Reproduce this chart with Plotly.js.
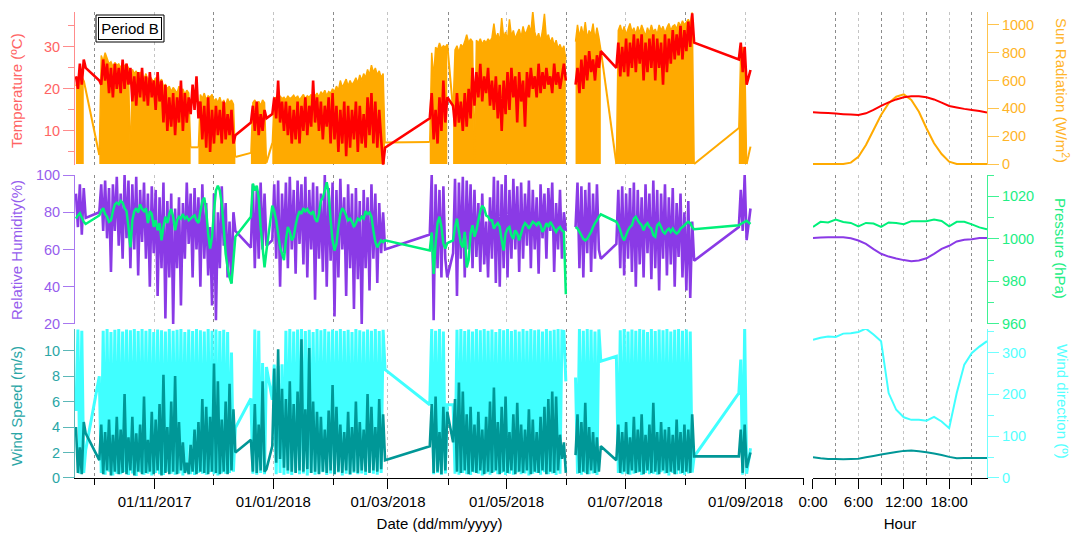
<!DOCTYPE html>
<html>
<head>
<meta charset="utf-8">
<script src="https://cdn.plot.ly/plotly-3.0.1.min.js"></script>
<style>
  html, body { margin: 0; padding: 0; background: #fff; }
  #chart { width: 1078px; height: 540px; }
</style>
</head>
<body>
<div id="chart"></div>
<script>
// daily samples, one block per measuring campaign (first day of each block)
const segStarts = ['2017-09-21', '2017-10-03', '2017-12-20', '2017-12-31', '2018-03-22',
  '2018-04-03', '2018-06-05', '2018-06-26', '2018-08-28', '2018-09-03']
// false = real hole in the record, no line drawn across
const segJoin = [true, true, true, true, true, true, false, true, true, true]

// temperature (ºC), alternating day high / night low
const temperature = [
  [23, 20, 26, 21, 27, 25],
  [22, 21, 27, 22, 26, 19, 25, 18, 26, 20, 25, 19, 27, 20, 26, 21, 25, 17, 23, 16,
   24, 18, 25, 17, 23, 16, 24, 18, 22, 15, 24, 17, 22, 12, 21, 10, 18, 11, 19, 9,
   18, 12, 22, 10, 19, 12, 18, 14, 21, 15, 23, 13, 17, 8, 16, 6, 18, 5, 15, 7,
   16, 9, 15, 7, 17, 8, 14, 9, 15, 7, 9],
  [12, 16, 10, 17, 9, 14, 10, 15, 13],
  [14, 18, 13, 22, 12, 17, 10, 17, 9, 16, 7, 15, 8, 17, 7, 16, 10, 18, 9, 16,
   11, 22, 12, 18, 10, 17, 8, 16, 11, 18, 7, 19, 8, 16, 5, 15, 7, 17, 4, 16,
   6, 15, 8, 17, 5, 16, 7, 14, 6, 18, 9, 19, 7, 17, 6, 15, 8, 2, 6],
  [13, 19, 8, 15, 7, 18, 10, 22, 12, 18],
  [16, 11, 19, 12, 17, 10, 19, 11, 20, 13, 25, 16, 24, 18, 26, 17, 23, 19, 25, 16,
   22, 15, 23, 13, 21, 10, 22, 14, 24, 15, 25, 18, 23, 12, 24, 17, 22, 11, 24, 18,
   25, 20, 23, 18, 26, 19, 24, 20, 25, 21, 23, 19, 26, 21, 24, 20, 23, 26, 22],
  [21, 25, 19, 27, 20, 28, 22, 29, 24, 27, 22, 28, 25, 29],
  [25, 31, 23, 30, 24, 32, 23, 31, 25, 33, 24, 32, 26, 33, 22, 31, 24, 32, 25, 33,
   22, 32, 25, 31, 21, 33, 24, 32, 26, 34, 27, 33, 28, 35, 27, 34, 29, 36, 30, 38, 31],
  [27, 31, 24, 30, 21],
  [24.5]
]

// relative humidity (%)
const humidity = [
  [90, 72, 95, 68, 93, 77],
  [80, 95, 70, 97, 66, 93, 48, 95, 70, 99, 62, 90, 55, 100, 66, 97, 50, 95, 60, 99,
   46, 92, 64, 96, 55, 90, 40, 94, 58, 92, 35, 88, 50, 96, 23, 86, 45, 90, 20, 82,
   50, 88, 30, 85, 55, 96, 63, 90, 45, 93, 60, 88, 40, 95, 55, 85, 46, 72, 30, 90,
   22, 80, 50, 94, 62, 85, 45, 75, 42, 80, 70],
  [61, 95, 50, 92, 55, 96, 60, 90, 62],
  [65, 95, 55, 97, 40, 90, 58, 96, 50, 99, 60, 92, 47, 97, 63, 95, 52, 99, 45, 92,
   60, 96, 33, 94, 55, 90, 48, 100, 40, 93, 54, 96, 24, 92, 45, 98, 60, 88, 35, 95,
   50, 90, 28, 93, 44, 86, 20, 92, 50, 88, 38, 95, 55, 90, 42, 85, 58, 80, 60],
  [68, 100, 22, 95, 50, 92, 45, 94, 55, 45],
  [58, 98, 35, 96, 55, 99, 45, 97, 60, 95, 50, 92, 56, 85, 48, 90, 52, 75, 45, 88,
   55, 99, 42, 97, 40, 95, 50, 100, 45, 92, 55, 98, 60, 94, 48, 96, 55, 90, 62, 97,
   50, 92, 60, 88, 47, 95, 66, 90, 55, 93, 70, 96, 48, 85, 60, 92, 55, 80, 70],
  [72, 96, 50, 94, 45, 92, 58, 96, 48, 90, 55, 95, 60, 55],
  [63, 92, 50, 94, 46, 90, 55, 93, 48, 96, 40, 92, 52, 88, 45, 95, 58, 90, 44, 97,
   50, 92, 38, 90, 55, 95, 46, 88, 52, 93, 40, 85, 56, 90, 45, 80, 38, 86, 34, 75, 54],
  [72, 92, 70, 100, 65],
  [82]
]

// pressure (hPa), daily mean
const pressure = [
  [1009.5, 1011, 1012, 1010, 1008, 1007],
  [1011, 1013, 1014.4, 1011.7, 1010.4, 1008, 1008.7, 1013, 1016.2, 1017, 1016.2, 1017.8, 1017, 1014.4, 1013,
   1005.6, 996, 1008.7, 1013, 1014.4, 1012.4, 1016.2, 1014, 1013, 1014.4, 1007.4, 1013, 1011.7, 1005.6, 1008.7,
   1004, 1007.4, 999.3, 1005.6, 1010.4, 1007.4, 1011.7, 1014, 1010.4, 1004, 1008.7, 1010.4, 1009.5, 1011.7, 1009.5,
   1010.4, 1008.7, 1009.5, 1010.4, 1011, 1008.7, 1007.4, 1013, 1017.8, 1019.4, 1013, 1002.5, 995.4, 1001, 1013,
   1022.7, 1025, 1022.7, 1016.2, 1005.6, 993, 986.6, 982, 979, 990, 1001],
  [1010.4, 1026, 1022.7, 1025, 1019.4, 1005.6, 996, 986.6, 994.5],
  [1015.6, 1013, 1008.7, 1002.5, 996, 993, 990, 999.3, 1005.6, 1003.3, 999.3, 1001, 1006.4, 1010.4, 1013,
   1011.7, 1014.4, 1013, 1014, 1012.4, 1011.7, 1013, 1009.5, 1008, 1011.7, 1017.8, 1019.4, 1022.7, 1026.6, 1021.3,
   1008.7, 999.3, 994.5, 997.8, 1005.6, 1011.7, 1014.4, 1013, 1011, 1008.7, 1009.5, 1008, 1005.6, 1007.4, 1009.5,
   1008.7, 1010.4, 1009.5, 1013, 1011.7, 1012.4, 1010.4, 1004, 998.5, 996, 997.8, 999.3, 998.5, 999.3],
  [994.5, 1003, 983.5, 997.8, 1007.4, 1010.4, 1005.6, 997.8, 995.4, 998],
  [999.3, 1005.6, 1009.5, 1003.3, 997.8, 996, 1003.3, 986.6, 990, 1002.5, 1006.4, 1001, 1004, 1008.7, 1013,
   1015.6, 1014.4, 1011, 1010.4, 1008.7, 1008.7, 1004.8, 1006.4, 1007.4, 1005.6, 999.3, 994.5, 1002.5, 1004.8, 1005.6,
   1001.7, 1000, 1004, 1002.5, 999.3, 1002.5, 1005.6, 1007.4, 1006.4, 1004.8, 1006.4, 1008, 1007.4, 1006.4, 1008,
   1006.4, 1003.3, 1004.8, 1007.4, 1005.6, 1008, 1006.4, 1004.8, 1003.3, 1004.8, 1005.6, 1004, 1003.3, 974],
  [1005.6, 1004.8, 1003.3, 1001.7, 1000, 999.3, 1000, 1001.7, 1003.3, 1005.6, 1007.4, 1008.7, 1010.4, 1011.5],
  [1008, 1006.4, 1004, 1001, 999.3, 1001.7, 1004, 1005.6, 1006.4, 1009.5, 1010.4, 1008.7, 1007.4, 1006.4, 1004,
   1006.4, 1007.4, 1005.6, 1004.8, 1001.7, 1001, 1006.4, 1007.4, 1005.6, 1003.3, 1002.5, 1004, 1004.8, 1003.3, 1004.8,
   1003.3, 1002.5, 1003.3, 1004.8, 1005.6, 1006.4, 1007.4, 1008, 1007.4, 1005.6, 1004.5],
  [1006.4, 1007, 1007.5, 1008, 1008.5],
  [1007]
]

// wind speed (m/s), alternating calm / gust
const windSpeed = [
  [4.0, 0.4, 2.4, 0.3, 4.4, 3.5],
  [1.4, 4.2, 0.3, 3.6, 0.6, 4.6, 0.2, 3.4, 0.5, 4.8, 0.3, 3.8, 0.4, 6.6, 0.3, 3.2, 0.6, 4.8, 0.2, 3.5,
   0.5, 4.2, 0.3, 6.4, 0.4, 3.0, 0.5, 5.2, 0.3, 4.6, 0.6, 5.8, 0.2, 8.1, 0.4, 4.0, 0.3, 6.0, 0.5, 8.0,
   0.3, 4.4, 0.6, 2.8, 0.4, 1.2, 0.3, 2.6, 0.5, 3.8, 0.3, 4.4, 0.5, 6.2, 0.4, 5.6, 0.3, 4.8, 0.5, 9.0,
   0.4, 7.6, 0.3, 4.6, 0.5, 6.0, 0.3, 7.4, 0.6, 5.4, 2.0],
  [3.0, 0.5, 5.8, 0.4, 4.2, 0.6, 7.6, 0.5, 0.7],
  [2.5, 8.6, 1.2, 10.1, 1.5, 7.0, 0.8, 6.2, 0.6, 7.6, 0.5, 5.8, 0.4, 6.8, 0.6, 10.9, 0.5, 5.4, 0.7, 10.2,
   0.4, 6.0, 0.5, 5.2, 0.3, 4.8, 0.5, 3.8, 0.4, 5.3, 0.6, 7.3, 0.3, 5.6, 0.5, 4.2, 0.4, 3.6, 0.6, 5.2,
   0.3, 4.0, 0.5, 6.0, 0.4, 4.4, 0.6, 3.8, 0.5, 6.6, 0.4, 5.6, 0.6, 4.0, 0.5, 6.2, 0.7, 5.0, 1.4],
  [2.5, 5.8, 0.4, 6.4, 0.5, 3.6, 0.3, 5.6, 0.6, 5.2],
  [2.8, 6.2, 0.5, 7.5, 0.4, 6.8, 0.6, 5.0, 0.3, 5.6, 0.5, 4.2, 0.4, 5.2, 0.6, 3.8, 0.3, 4.8, 0.5, 6.0,
   0.4, 7.1, 0.6, 4.4, 0.3, 5.6, 0.5, 6.4, 0.4, 3.6, 0.6, 5.0, 0.3, 5.9, 0.5, 4.2, 0.4, 3.8, 0.6, 5.4,
   0.3, 4.6, 0.5, 3.6, 0.4, 4.8, 0.6, 5.6, 0.3, 6.2, 0.5, 6.8, 0.4, 6.4, 0.6, 3.4, 1.5, 2.8, 0.4],
  [1.8, 5.0, 0.4, 4.4, 0.5, 5.9, 0.3, 4.0, 0.6, 3.6, 0.4, 3.2, 0.5, 2.5],
  [1.4, 4.2, 0.4, 3.6, 0.5, 4.4, 0.3, 3.2, 0.6, 4.8, 0.4, 3.8, 0.5, 5.0, 0.3, 3.4, 0.6, 4.2, 0.4, 5.9,
   0.5, 3.6, 0.3, 4.4, 0.6, 3.8, 0.4, 4.0, 0.5, 3.4, 0.3, 4.6, 0.6, 3.6, 0.4, 4.2, 0.5, 3.8, 0.4, 5.0, 1.7],
  [1.7, 3.8, 0.4, 4.2, 0.8],
  [2.0]
]

// wind direction (º)
const windDir = [
  [160, 355, 10, 352, 12, 67],
  [243, 12, 352, 8, 356, 15, 349, 6, 354, 10, 357, 9, 350, 14, 355, 7, 353, 11, 358, 5,
   351, 13, 356, 8, 352, 10, 357, 6, 349, 12, 355, 9, 353, 7, 350, 15, 356, 10, 352, 8,
   354, 11, 358, 6, 349, 13, 355, 9, 351, 7, 356, 12, 353, 10, 350, 8, 357, 14, 352, 9,
   355, 6, 351, 11, 354, 10, 349, 12, 300, 15, 120],
  [190, 10, 355, 8, 352, 12, 275, 9, 265],
  [187, 271, 9, 268, 12, 272, 8, 352, 10, 356, 7, 350, 13, 355, 9, 358, 11, 351, 6, 354,
   12, 349, 8, 356, 10, 353, 14, 357, 7, 350, 11, 355, 9, 352, 13, 358, 6, 351, 10, 354,
   8, 349, 12, 356, 9, 353, 11, 350, 7, 355, 14, 352, 10, 357, 8, 351, 12, 354, 259],
  [175, 356, 9, 352, 12, 358, 8, 350, 11, 175],
  [175, 10, 354, 8, 357, 12, 351, 9, 355, 7, 350, 13, 356, 10, 353, 6, 358, 11, 352, 8,
   355, 14, 349, 9, 356, 12, 353, 7, 357, 10, 351, 8, 354, 13, 350, 9, 356, 11, 352, 6,
   358, 10, 353, 12, 355, 8, 350, 14, 357, 9, 352, 11, 354, 7, 356, 10, 351, 350, 231],
  [240, 10, 356, 8, 352, 12, 357, 9, 354, 11, 350, 7, 355, 279],
  [291, 12, 353, 9, 357, 11, 350, 8, 355, 10, 352, 13, 356, 7, 354, 12, 349, 9, 357, 10,
   351, 8, 355, 14, 353, 11, 356, 6, 350, 12, 354, 9, 357, 10, 352, 8, 355, 11, 350, 13, 51],
  [203, 283, 8, 358, 10],
  [71]
]

// sun radiation (W/m2), daily peak; its record has one more hole in November
const sunStarts = ['2017-09-21', '2017-10-03', '2017-11-23', '2017-12-20', '2017-12-31', '2018-03-22',
  '2018-04-03', '2018-06-05', '2018-06-26', '2018-08-28', '2018-09-03']
const sunJoin = [true, true, true, true, true, true, true, false, true, true, true]
const sunRadiation = [
  [560, 620, 590, 630, 600],
  [65, 780, 740, 800, 760, 720, 735, 700, 730, 710, 720, 690, 730, 700, 720, 690, 10, 680, 650, 670,
   620, 660, 640, 610, 650, 600, 630, 610, 590, 620, 600, 580, 610, 560, 570, 540, 560, 520, 550, 530,
   510, 560, 520, 540, 500, 530, 510, 120],
  [120, 500, 470, 510, 460, 490, 480, 500, 450, 470, 440, 480, 430, 460, 420, 470, 440, 460, 430, 50],
  [80, 440, 460, 430, 450, 420, 460, 440, 10],
  [150, 470, 480, 460, 490, 470, 480, 460, 490, 470, 480, 495, 470, 490, 460, 480, 500, 470, 490, 480,
   500, 470, 490, 510, 480, 520, 500, 530, 490, 520, 510, 540, 520, 560, 530, 600, 550, 580, 610, 560,
   600, 570, 590, 620, 580, 640, 600, 650, 620, 680, 640, 710, 660, 690, 640, 670, 620, 650, 155],
  [158, 800, 620, 840, 820, 870, 830, 850, 840, 860],
  [390, 820, 850, 800, 860, 840, 880, 930, 870, 900, 880, 20, 890, 870, 900, 860, 890, 870, 900, 880,
   910, 1010, 900, 940, 880, 1050, 910, 950, 890, 1040, 920, 960, 900, 940, 970, 910, 990, 930, 960, 1000,
   940, 1100, 950, 900, 940, 880, 960, 1080, 900, 930, 870, 910, 850, 890, 830, 860, 820, 850, 750],
  [880, 1000, 910, 990, 920, 1020, 900, 960, 930, 1010, 890, 980, 910, 820],
  [0, 960, 1000, 940, 990, 930, 970, 1010, 950, 980, 930, 990, 940, 1000, 960, 920, 980, 940, 1000, 950,
   970, 930, 1000, 960, 990, 940, 980, 1010, 960, 990, 1000, 970, 1020, 990, 1030, 1000, 1020, 1040, 1010, 1090, 0],
  [259, 820, 840, 800, 0],
  [125]
]

// mean daily cycle
const hours = [0, 1, 2, 3, 4, 5, 6, 7, 8, 9, 10, 11, 12, 13, 14, 15, 16, 17, 18, 19, 20, 21, 22, 23]
const sunHourly = [0, 0, 0, 0, 0, 10, 52, 137, 245, 352, 437, 484, 501, 460, 376, 257, 149, 72, 17, 0, 0, 0, 0, 0]
const tempHourly = [14.45, 14.35, 14.25, 14.13, 14.0, 13.9, 13.8, 14.2, 15.0, 15.95, 16.8, 17.5,
  18.0, 18.25, 18.25, 18.0, 17.5, 16.75, 15.95, 15.6, 15.25, 15.0, 14.75, 14.4]
const rhHourly = [66.2, 66.4, 66.6, 66.6, 66.6, 66.0, 64.8, 63.0, 60.2, 57.7, 56.2, 55.2,
  54.3, 53.7, 54.1, 55.3, 57.7, 60.3, 62.0, 64.3, 65.2, 65.5, 66.2, 66.2]
const pressureHourly = [1005.6, 1008.0, 1007.7, 1009.1, 1007.9, 1007.5, 1005.9, 1007.5, 1007.2, 1005.6, 1007.7, 1007.5,
  1006.9, 1008.3, 1008.3, 1008.3, 1009.1, 1008.4, 1005.9, 1008.0, 1008.0, 1006.8, 1005.4, 1004.5]
const dirHourly = [330, 335, 338, 337, 345, 346, 349, 357, 343, 327, 203, 163,
  145, 139, 139, 137, 146, 135, 119, 203, 271, 299, 314, 327]
const speedHourly = [1.63, 1.55, 1.5, 1.5, 1.47, 1.5, 1.52, 1.63, 1.73, 1.84, 1.94, 2.05,
  2.13, 2.15, 2.1, 2.02, 1.92, 1.81, 1.66, 1.55, 1.57, 1.57, 1.57, 1.57]

const RED = '#ff0000', ORANGE = '#ffaa00', PURPLE = '#8a3ae6'
const GREEN = '#00f07a', TEAL = '#009797', CYAN = '#40ffff'
const FONT = 'Liberation Sans, Arial, sans-serif'

function dayStamp(start, i) {
  let t = Date.parse(start + 'T12:00:00Z') + i * 86400000
  return new Date(t).toISOString().slice(0, 16).replace('T', ' ')
}

// glue the blocks together, null where the record is broken
function joined(starts, joins, segs) {
  let x = [], y = []
  segs.forEach((vals, s) => {
    if (s > 0 && !joins[s]) { x.push(null); y.push(null) }
    vals.forEach((v, i) => { x.push(dayStamp(starts[s], i)); y.push(v) })
  })
  return {x, y}
}

function line(xa, ya, x, y, color, width) {
  return {type: 'scatter', mode: 'lines', xaxis: xa, yaxis: ya, x, y,
    line: {color, width, simplify: false}, hoverinfo: 'skip'}
}

let traces = []

// sun: filled blocks plus the straight lines across the holes
sunRadiation.forEach((vals, s) => {
  let tr = line('x', 'y', vals.map((v, i) => dayStamp(sunStarts[s], i)), vals, ORANGE, 1.5)
  tr.fill = 'tozeroy'
  tr.fillcolor = ORANGE
  traces.push(tr)
})
let bx = [], by = []
for (let s = 1; s < sunRadiation.length; s++) {
  if (!sunJoin[s]) continue
  let prev = sunRadiation[s - 1]
  bx.push(dayStamp(sunStarts[s - 1], prev.length - 1), dayStamp(sunStarts[s], 0), null)
  by.push(prev[prev.length - 1], sunRadiation[s][0], null)
}
traces.push(line('x', 'y', bx, by, ORANGE, 2))

let t = joined(segStarts, segJoin, temperature)
traces.push(line('x', 'y2', t.x, t.y, RED, 2.6))
let h = joined(segStarts, segJoin, humidity)
traces.push(line('x', 'y3', h.x, h.y, PURPLE, 2.6))
let p = joined(segStarts, segJoin, pressure)
traces.push(line('x', 'y4', p.x, p.y, GREEN, 2.5))
let wd = joined(segStarts, segJoin, windDir)
traces.push(line('x', 'y5', wd.x, wd.y, CYAN, 3))
let ws = joined(segStarts, segJoin, windSpeed)
traces.push(line('x', 'y6', ws.x, ws.y, TEAL, 2.6))

// daily cycle panel
traces.push(line('x2', 'y', hours, sunHourly, ORANGE, 2))
traces.push(line('x2', 'y2', hours, tempHourly, RED, 2))
traces.push(line('x2', 'y3', hours, rhHourly, PURPLE, 2))
traces.push(line('x2', 'y4', hours, pressureHourly, GREEN, 2))
traces.push(line('x2', 'y5', hours, dirHourly, CYAN, 2))
traces.push(line('x2', 'y6', hours, speedHourly, TEAL, 2))

function yax(o) {
  return Object.assign({
    showline: true, linewidth: 1, ticks: 'outside', ticklen: 11, showgrid: false,
    zeroline: false, fixedrange: true,
    linecolor: o.lc, tickcolor: o.lc, tickfont: {family: FONT, size: 14.5, color: o.tc}
  }, o.rest)
}

// pixel -> paper helpers for the labels (plot area 75..987 x 12..478)
const px = v => (v - 75) / 912
const py = v => (478 - v) / 466

function sideTitle(text, x, y, angle, color) {
  return {text, x: px(x), y: py(y), xref: 'paper', yref: 'paper', showarrow: false,
    textangle: angle, font: {family: FONT, size: 15, color}, xanchor: 'center', yanchor: 'middle'}
}

const layout = {
  width: 1078, height: 540,
  margin: {l: 75, r: 91, t: 12, b: 62},
  paper_bgcolor: '#fff', plot_bgcolor: '#fff',
  showlegend: false,
  font: {family: FONT, size: 15, color: '#000'},
  xaxis: {
    domain: [0, 0.7993], anchor: 'y5', type: 'date',
    range: ['2017-09-21', '2018-10-01'],
    tick0: '2017-11-01', dtick: 'M2', tickformat: '%d/%m/%Y',
    ticks: 'outside', ticklen: 10, tickcolor: '#000',
    showline: true, linecolor: '#000', zeroline: false,
    showgrid: true, gridcolor: '#c4c4c4', griddash: 'dot', gridwidth: 1,
    minor: {dtick: 'M1', ticks: 'outside', ticklen: 6, tickcolor: '#000',
      showgrid: true, gridcolor: '#8c8c8c', griddash: 'dot', gridwidth: 1},
    tickfont: {family: FONT, size: 15, color: '#000'},
    title: {text: 'Date (dd/mm/yyyy)', font: {family: FONT, size: 15}, standoff: 9}
  },
  xaxis2: {
    domain: [0.8092, 1], anchor: 'y5', range: [0, 23],
    tick0: 0, dtick: 6, ticksuffix: ':00',
    ticks: 'outside', ticklen: 10, tickcolor: '#000',
    showline: true, linecolor: '#000', zeroline: false,
    showgrid: true, gridcolor: '#c4c4c4', griddash: 'dot', gridwidth: 1,
    minor: {dtick: 3, ticks: 'outside', ticklen: 6, tickcolor: '#000',
      showgrid: true, gridcolor: '#8c8c8c', griddash: 'dot', gridwidth: 1},
    tickfont: {family: FONT, size: 15, color: '#000'},
    title: {text: 'Hour', font: {family: FONT, size: 15}, standoff: 9}
  },
  // top row: sun (right) with temperature on top of it (left)
  yaxis: yax({lc: '#ffc44d', tc: '#ffb428', rest: {
    domain: [0.6717, 1], anchor: 'x2', side: 'right', range: [-7, 1093], dtick: 200, tick0: 0}}),
  yaxis2: yax({lc: '#ff8c8c', tc: '#ff6464', rest: {
    overlaying: 'y', anchor: 'x', side: 'left', range: [1.9, 38.3], dtick: 10, tick0: 0,
    minor: {dtick: 5, ticks: 'outside', ticklen: 6, tickcolor: '#ff8c8c'}}}),
  // middle row: humidity (left) with pressure on top (right)
  yaxis3: yax({lc: '#a878f0', tc: '#965ded', rest: {
    domain: [0.3305, 0.6502], anchor: 'x', side: 'left', range: [20, 100], dtick: 20, tick0: 0}}),
  yaxis4: yax({lc: '#3ef294', tc: '#22ee84', rest: {
    overlaying: 'y3', anchor: 'x2', side: 'right', range: [960, 1030], dtick: 20, tick0: 960,
    minor: {dtick: 10, ticks: 'outside', ticklen: 6, tickcolor: '#3ef294'}}}),
  // bottom row: direction (right) with speed on top (left)
  yaxis5: yax({lc: '#70ffff', tc: '#55ffff', rest: {
    domain: [0, 0.3197], anchor: 'x2', side: 'right', range: [0, 356], dtick: 100, tick0: 0,
    minor: {dtick: 50, ticks: 'outside', ticklen: 6, tickcolor: '#70ffff'}}}),
  yaxis6: yax({lc: '#5cb8b8', tc: '#2aa6a6', rest: {
    overlaying: 'y5', anchor: 'x', side: 'left', range: [0, 11.7], dtick: 2, tick0: 0}}),
  shapes: [{type: 'rect', xref: 'paper', yref: 'paper', layer: 'above',
    x0: px(96), x1: px(164), y0: py(42), y1: py(15),
    line: {color: '#000', width: 1}, fillcolor: '#fff'}],
  annotations: [
    {text: 'Period B', x: px(130), y: py(28.5), xref: 'paper', yref: 'paper', showarrow: false,
      xanchor: 'center', yanchor: 'middle',
      width: 60, height: 19, borderpad: 1, borderwidth: 1, bordercolor: '#000', bgcolor: '#fff',
      font: {family: FONT, size: 15, color: '#000'}},
    sideTitle('Temperature (ºC)', 16, 90, -90, '#ff6464'),
    sideTitle('Relative Humidity(%)', 16, 250, -90, '#965ded'),
    sideTitle('Wind Speed (m/s)', 16, 406, -90, '#2aa6a6'),
    sideTitle('Sun Radiation (W/m<sup>2</sup>)', 1063, 90, 90, '#ffb428'),
    sideTitle('Pressure (hPa)', 1061, 248, 90, '#22ee84'),
    sideTitle('Wind direction (º)', 1063, 401, 90, '#55ffff')
  ]
}

Plotly.newPlot('chart', traces, layout, {displayModeBar: false, staticPlot: true})
</script>
</body>
</html>
